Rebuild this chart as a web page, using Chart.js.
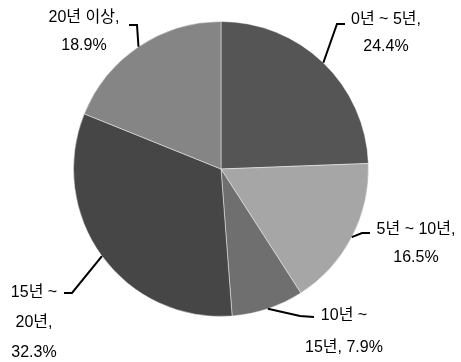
<!DOCTYPE html>
<html>
<head>
<meta charset="utf-8">
<script src="https://cdn.jsdelivr.net/npm/chart.js@4"></script>
<style>
  html, body { margin: 0; padding: 0; background: #fff; }
</style>
</head>
<body>
<canvas id="pie" width="461" height="362"></canvas>
<script>
const categories = ["0년 ~ 5년", "5년 ~ 10년", "10년 ~ 15년", "15년 ~ 20년", "20년 이상"];
const shares = [24.4, 16.5, 7.9, 32.3, 18.9];
const sliceColors = ["#555555", "#a6a6a6", "#6f6f6f", "#464646", "#858585"];

// how many words go on each line of a slice label
const wraps = [[3, 1], [3, 1], [2, 2], [2, 1, 1], [2, 1]];

// label placement: first line centre, line height, leader elbow and leader end
const labelLayout = [
  { x: 386, y: 20, lh: 27, elbow: [337, 24], end: [345, 24] },
  { x: 416, y: 230, lh: 28, elbow: [362, 233], end: [370, 233] },
  { x: 344, y: 316, lh: 32, elbow: [300, 316], end: [314, 317] },
  { x: 34, y: 293, lh: 30, elbow: [72, 293], end: [64, 293] },
  { x: 84, y: 18, lh: 28, elbow: [137, 25], end: [129, 25] }
];

function labelLines(i) {
  const words = (categories[i] + ", " + shares[i] + "%").split(" ");
  const lines = [];
  let k = 0;
  wraps[i].forEach(n => {
    lines.push(words.slice(k, k + n).join(" "));
    k += n;
  });
  return lines;
}

const sliceLabels = {
  id: "sliceLabels",
  afterDatasetsDraw(chart) {
    const ctx = chart.ctx;
    const meta = chart.getDatasetMeta(0);
    ctx.save();
    meta.data.forEach((arc, i) => {
      const p = arc.getProps(["x", "y", "startAngle", "endAngle", "outerRadius"], true);
      const mid = (p.startAngle + p.endAngle) / 2;
      const ax = p.x + Math.cos(mid) * p.outerRadius;
      const ay = p.y + Math.sin(mid) * p.outerRadius;
      const lay = labelLayout[i];

      ctx.strokeStyle = "#000";
      ctx.lineWidth = 2;
      ctx.beginPath();
      ctx.moveTo(ax, ay);
      ctx.lineTo(lay.elbow[0], lay.elbow[1]);
      ctx.lineTo(lay.end[0], lay.end[1]);
      ctx.stroke();

      ctx.fillStyle = "#000";
      ctx.font = '16px "Liberation Sans", "Noto Sans CJK KR", sans-serif';
      ctx.textAlign = "center";
      ctx.textBaseline = "middle";
      labelLines(i).forEach((line, j) => {
        ctx.fillText(line, lay.x, lay.y + j * lay.lh);
      });
    });
    ctx.restore();
  }
};

new Chart(document.getElementById("pie").getContext("2d"), {
  type: "pie",
  data: {
    labels: categories,
    datasets: [{
      data: shares,
      backgroundColor: sliceColors,
      borderColor: "rgba(255,255,255,0.45)",
      borderWidth: 1
    }]
  },
  options: {
    responsive: false,
    animation: false,
    layout: { padding: { top: 21, bottom: 45, left: 73, right: 92 } },
    plugins: {
      legend: { display: false },
      tooltip: { enabled: false }
    }
  },
  plugins: [sliceLabels]
});
</script>
</body>
</html>
